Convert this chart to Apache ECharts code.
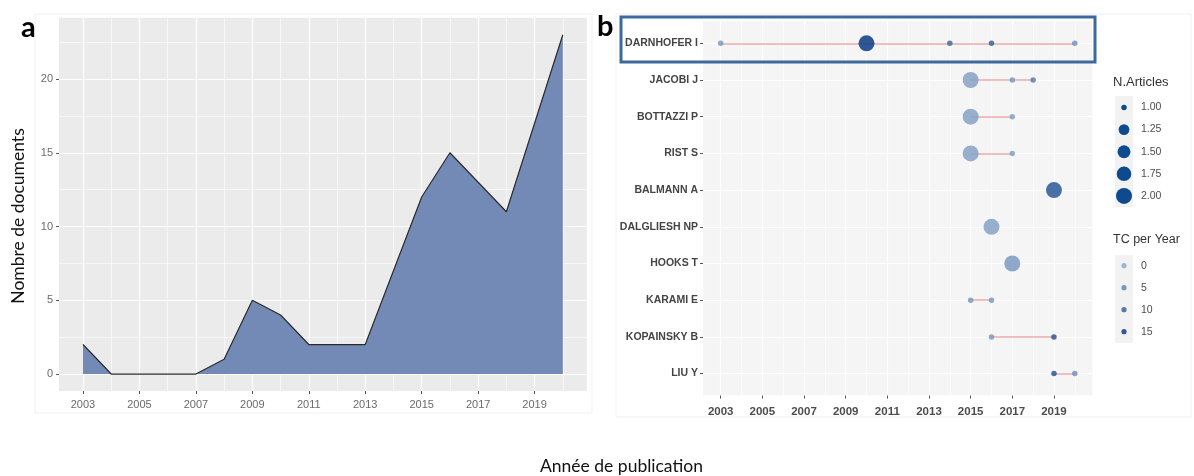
<!DOCTYPE html>
<html>
<head>
<meta charset="utf-8">
<script src="https://cdn.jsdelivr.net/npm/echarts@6.0.0/dist/echarts.min.js"></script>
<style>
    html, body { margin: 0; padding: 0; background: #fff; }
    #chart { width: 1194px; height: 476px; }
</style>
</head>
<body>
<div id="chart"></div>
<script>
// panel a : documents per year
var years = [2003, 2004, 2005, 2006, 2007, 2008, 2009, 2010, 2011, 2012, 2013, 2014, 2015, 2016, 2017, 2018, 2019, 2020];
var docs = [2, 0, 0, 0, 0, 1, 5, 4, 2, 2, 2, 7, 12, 15, 13, 11, 17, 23];
var yearTicks = [2003, 2005, 2007, 2009, 2011, 2013, 2015, 2017, 2019];
var yearMinor = [2004, 2006, 2008, 2010, 2012, 2014, 2016, 2018, 2020];
var docTicks = [0, 5, 10, 15, 20];
var docMinor = [2.5, 7.5, 12.5, 17.5, 22.5];

// panel b : authors production over time
var authors = ['DARNHOFER I', 'JACOBI J', 'BOTTAZZI P', 'RIST S', 'BALMANN A',
    'DALGLIESH NP', 'HOOKS T', 'KARAMI E', 'KOPAINSKY B', 'LIU Y'];
var pubAuthor = [0, 0, 0, 0, 0, 1, 1, 1, 2, 2, 3, 3, 4, 5, 6, 7, 7, 8, 8, 9, 9];
var pubYear = [2003, 2010, 2014, 2016, 2020, 2015, 2017, 2018, 2015, 2017, 2015, 2017, 2019, 2016, 2017, 2015, 2016, 2016, 2019, 2019, 2020];
var pubArticles = [1, 2, 1, 1, 1, 2, 1, 1, 2, 1, 2, 1, 2, 2, 2, 1, 1, 1, 1, 1, 1];
var pubTcYear = [3, 17, 10, 11, 4, 2, 3, 7, 2, 2, 2, 2, 13, 2, 3, 3, 3, 3, 13, 13, 4];
var sizeLegend = [1.00, 1.25, 1.50, 1.75, 2.00];
var tcLegend = [0, 5, 10, 15];

var lowC = [150, 174, 206], highC = [10, 60, 132];
function tcColor(v) {
    var t = Math.max(0, Math.min(1, v / 17));
    var c = lowC.map(function (l, k) { return Math.round(l + (highC[k] - l) * t); });
    return 'rgb(' + c.join(',') + ')';
}
function sizeOf(n) {
    return 5.5 + Math.sqrt(Math.max(0, n - 1)) * 10.5;
}

var tickFont = 'Liberation Sans, Arial, sans-serif';
var titleFont = 'Lato, Open Sans, sans-serif';

function valueAxis(grid, min, max, ticks, major, label) {
    return {
        gridIndex: grid,
        type: 'value',
        min: min,
        max: max,
        axisLine: { show: false, onZero: false },
        axisTick: { show: major, length: 3, customValues: ticks, lineStyle: { color: '#555', width: 1 } },
        axisLabel: label ? Object.assign({ customValues: ticks }, label) : { show: false },
        splitLine: { show: true, lineStyle: { color: '#fff', width: major ? 1.2 : 0.6 } }
    };
}

var points = [];
for (var i = 0; i < pubYear.length; i++) {
    points.push([pubYear[i], pubAuthor[i], pubArticles[i], pubTcYear[i]]);
}
var segments = [];
authors.forEach(function (name, a) {
    var ys = pubYear.filter(function (y, k) { return pubAuthor[k] === a; });
    var y0 = Math.min.apply(null, ys), y1 = Math.max.apply(null, ys);
    if (y1 > y0) segments.push({ coords: [[y0, a], [y1, a]] });
});

var yearLabel = function (v) { return String(v); };

var graphic = [
    { type: 'rect', shape: { x: 35, y: 14, width: 557, height: 399 }, style: { fill: 'none', stroke: '#f0f0f0' }, z: -1 },
    { type: 'rect', shape: { x: 616, y: 14, width: 575, height: 403 }, style: { fill: 'none', stroke: '#f0f0f0' }, z: -1 },
    { type: 'text', x: 21, y: 42, style: { text: 'a', font: 'bold 29px ' + titleFont, fill: '#000', textVerticalAlign: 'bottom' } },
    { type: 'text', x: 597, y: 41, style: { text: 'b', font: 'bold 29px ' + titleFont, fill: '#000', textVerticalAlign: 'bottom' } },
    { type: 'text', x: 18, y: 216, rotation: Math.PI / 2, style: { text: 'Nombre de documents', font: '17.5px ' + titleFont, fill: '#111', textAlign: 'center', textVerticalAlign: 'middle' } },
    { type: 'text', x: 540, y: 466, style: { text: 'Année de publication', font: '17.5px ' + titleFont, fill: '#111', textAlign: 'left', textVerticalAlign: 'middle' } },
    { type: 'rect', shape: { x: 621, y: 17, width: 474, height: 45 }, style: { fill: 'none', stroke: '#3c6a9c', lineWidth: 3 }, z: 10 },
    { type: 'text', x: 1113, y: 82, style: { text: 'N.Articles', font: '13px ' + tickFont, fill: '#333', textVerticalAlign: 'middle' } },
    { type: 'rect', shape: { x: 1115, y: 96, width: 18, height: 111 }, style: { fill: '#f2f2f2' } },
    { type: 'text', x: 1113, y: 240, style: { text: 'TC per Year', font: '12.5px ' + tickFont, fill: '#333', textVerticalAlign: 'middle' } },
    { type: 'rect', shape: { x: 1115, y: 255, width: 18, height: 88 }, style: { fill: '#f2f2f2' } }
];
sizeLegend.forEach(function (n, k) {
    var cy = 107.5 + k * 22.1;
    graphic.push({ type: 'circle', shape: { cx: 1124, cy: cy, r: sizeOf(n) / 2 }, style: { fill: '#0e4a8e' } });
    graphic.push({ type: 'text', x: 1141, y: cy, style: { text: n.toFixed(2), font: '10.5px ' + tickFont, fill: '#4d4d4d', textVerticalAlign: 'middle' } });
});
tcLegend.forEach(function (v, k) {
    var cy = 265.7 + k * 22;
    graphic.push({ type: 'circle', shape: { cx: 1124, cy: cy, r: 2.6 }, style: { fill: tcColor(v), opacity: 0.9 } });
    graphic.push({ type: 'text', x: 1141, y: cy, style: { text: String(v), font: '10.5px ' + tickFont, fill: '#4d4d4d', textVerticalAlign: 'middle' } });
});

var myChart = echarts.init(document.getElementById('chart'));
var option = {
    animation: false,
    backgroundColor: '#fff',
    grid: [
        { left: 59, top: 17.8, width: 527.8, height: 373.2, show: true, backgroundColor: '#ebebeb', borderWidth: 0 },
        { left: 703, top: 21.3, width: 389.5, height: 374.3, show: true, backgroundColor: '#f5f5f5', borderWidth: 0 }
    ],
    xAxis: [
        valueAxis(0, 2002.15, 2020.85, yearTicks, true, { color: '#6a6a6a', fontSize: 11, fontFamily: tickFont, margin: 8, formatter: yearLabel }),
        valueAxis(0, 2002.15, 2020.85, yearMinor, false),
        valueAxis(1, 2002.15, 2020.85, yearTicks, true, { color: '#4d4d4d', fontSize: 11.5, fontWeight: 'bold', fontFamily: tickFont, margin: 10, formatter: yearLabel }),
        valueAxis(1, 2002.15, 2020.85, yearMinor, false)
    ],
    yAxis: [
        valueAxis(0, -1.15, 24.15, docTicks, true, { color: '#6a6a6a', fontSize: 11, fontFamily: tickFont, margin: 6 }),
        valueAxis(0, -1.15, 24.15, docMinor, false),
        Object.assign(valueAxis(1, -0.6, 9.6, authors.map(function (a, k) { return k; }), true,
            { color: '#444', fontSize: 10.5, fontWeight: 'bold', fontFamily: tickFont, margin: 5,
              formatter: function (v) { return authors[v]; } }), { inverse: true })
    ],
    graphic: graphic,
    series: [
        {
            type: 'line',
            xAxisIndex: 0,
            yAxisIndex: 0,
            data: years.map(function (y, k) { return [y, docs[k]]; }),
            showSymbol: false,
            lineStyle: { color: '#2b2b2b', width: 1.2 },
            areaStyle: { color: '#7389b6', opacity: 1 },
            silent: true
        },
        {
            type: 'lines',
            coordinateSystem: 'cartesian2d',
            xAxisIndex: 2,
            yAxisIndex: 2,
            data: segments,
            lineStyle: { color: '#e6a2a2', width: 1.6, opacity: 0.9, curveness: 0 },
            silent: true,
            z: 2
        },
        {
            type: 'scatter',
            xAxisIndex: 2,
            yAxisIndex: 2,
            data: points,
            symbolSize: function (v) { return sizeOf(v[2]); },
            itemStyle: {
                color: function (p) { return tcColor(p.value[3]); },
                opacity: 0.85
            },
            silent: true,
            z: 3
        }
    ]
};
myChart.setOption(option);
</script>
</body>
</html>
